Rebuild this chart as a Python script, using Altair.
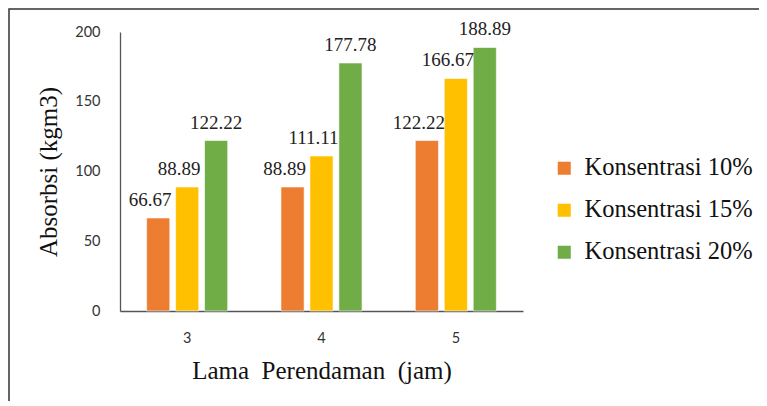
import altair as alt
import pandas as pd

hours = ["3", "4", "5"]
series = ["Konsentrasi 10%", "Konsentrasi 15%", "Konsentrasi 20%"]
colors = ["#ED7D31", "#FFC000", "#70AD47"]
values = {
    "Konsentrasi 10%": [66.67, 88.89, 122.22],
    "Konsentrasi 15%": [88.89, 111.11, 166.67],
    "Konsentrasi 20%": [122.22, 177.78, 188.89],
}
y_ticks = [0, 50, 100, 150, 200]

rows = []
for s in series:
    for h, v in zip(hours, values[s]):
        rows.append({"jam": h, "seri": s, "nilai": v})
df = pd.DataFrame(rows)

serif = "'Liberation Serif', 'Times New Roman', serif"
sans = "Lato, 'Open Sans', sans-serif"

x_enc = alt.X("jam:N", sort=hours,
              scale=alt.Scale(paddingInner=0, paddingOuter=0),
              axis=alt.Axis(title="Lama\u00a0 Perendaman\u00a0 (jam)", labelAngle=0,
                            labelFont=sans, labelFontSize=14.5, labelColor="#333",
                            labelPadding=20, ticks=False, domainColor="#555",
                            domainWidth=1.3, titleFont=serif, titleFontSize=25,
                            titleFontWeight="normal", titleColor="#111",
                            titlePadding=14))
xoff = alt.XOffset("seri:N", sort=series,
                   scale=alt.Scale(paddingInner=0.2, paddingOuter=0.92))
y_enc = alt.Y("nilai:Q", scale=alt.Scale(domain=[0, 200]),
              axis=alt.Axis(title="Absorbsi (kgm3)", values=y_ticks, grid=False,
                            ticks=False, labelFont=sans, labelFontSize=14.5,
                            labelColor="#333", labelPadding=20, domainColor="#555",
                            domainWidth=1.3, titleFont=serif, titleFontSize=25,
                            titleFontWeight="normal", titleColor="#111",
                            titlePadding=13))

base = alt.Chart(df)

bars = base.mark_bar(stroke="white", strokeWidth=0.6).encode(
    x=x_enc, xOffset=xoff, y=y_enc,
    color=alt.Color("seri:N", sort=series,
                    scale=alt.Scale(domain=series, range=colors),
                    legend=alt.Legend(title=None, orient="none", legendX=432,
                                      legendY=124, symbolType="square",
                                      symbolSize=170, symbolStrokeWidth=0,
                                      labelFont=serif, labelFontSize=24.5,
                                      labelColor="#111", labelOffset=8,
                                      labelLimit=400,
                                      rowPadding=17, padding=0)),
)

def value_labels(data_filter, dx):
    return base.transform_filter(data_filter).mark_text(
        baseline="alphabetic", dy=-12, dx=dx, font=serif, fontSize=19, color="#222"
    ).encode(
        x=alt.X("jam:N", sort=hours),
        xOffset=alt.XOffset("seri:N", sort=series),
        y="nilai:Q",
        text=alt.Text("nilai:Q", format=".2f"),
    )

labels_a = value_labels(alt.datum.seri != series[2], -8)
labels_b = value_labels(alt.datum.seri == series[2], 0)

frame = alt.Chart(alt.Data(values=[{"a": 1}])).mark_rect(
    filled=False, stroke="#333", strokeWidth=1.5
).encode(x=alt.value(-111), x2=alt.value(800), y=alt.value(-23), y2=alt.value(600))

chart = alt.layer(bars, labels_a, labels_b, frame).properties(
    width=403, height=279,
    autosize=alt.AutoSizeParams(type="none"),
    padding={"left": 112, "top": 24, "right": 236, "bottom": 90},
).configure_view(stroke=None)

chart.save("out.html", embed_options={"renderer": "svg", "actions": False})
